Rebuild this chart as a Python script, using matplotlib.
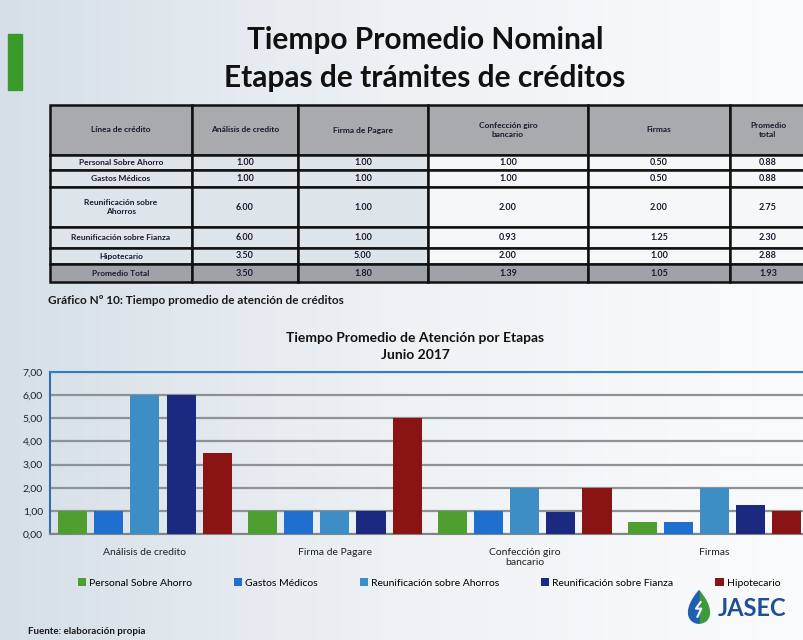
import matplotlib.pyplot as plt
import matplotlib.patches as patches
from matplotlib.colors import LinearSegmentedColormap
import numpy as np

plt.rcParams['font.family'] = ['Lato', 'DejaVu Sans']

# Data
etapas = ["Análisis de credito", "Firma de Pagare", "Confección giro\nbancario", "Firmas"]
lineas = ["Personal Sobre Ahorro", "Gastos Médicos", "Reunificación sobre Ahorros",
          "Reunificación sobre Fianza", "Hipotecario"]
personal = [1.00, 1.00, 1.00, 0.50]
gastos = [1.00, 1.00, 1.00, 0.50]
reunif_ahorros = [6.00, 1.00, 2.00, 2.00]
reunif_fianza = [6.00, 1.00, 0.93, 1.25]
hipotecario = [3.50, 5.00, 2.00, 1.00]
promedio_etapa = [3.50, 1.80, 1.39, 1.05]
promedio_linea = [0.88, 0.88, 2.75, 2.30, 2.88]
promedio_general = 1.93

header = ["Línea de crédito", "Análisis de credito", "Firma de Pagare",
          "Confección giro\nbancario", "Firmas", "Promedio\ntotal"]
row_labels = ["Personal Sobre Ahorro", "Gastos Médicos", "Reunificación sobre\nAhorros",
              "Reunificación sobre Fianza", "Hipotecario", "Promedio Total"]

series = [personal, gastos, reunif_ahorros, reunif_fianza, hipotecario]
colors = ['#4E9F2F', '#1F6FCF', '#3D8EC4', '#1B2A80', '#8A1414']

W, H = 804, 640
fig = plt.figure(figsize=(W / 100, H / 100), dpi=100)
fig.patch.set_facecolor('#E9EEF2')

# photo-like background gradient
bg = fig.add_axes([0, 0, 1, 1], zorder=-5)
grad = np.linspace(0, 1, 256)[None, :]
cmap = LinearSegmentedColormap.from_list('bg', ['#D6DFE7', '#EEF2F5', '#FAFBFC'])
bg.imshow(grad, aspect='auto', cmap=cmap, extent=[0, 1, 0, 1])
bg.axis('off')


def px(x, y, w, h):
    return [x / W, 1 - (y + h) / H, w / W, h / H]


# green accent bar and titles
fig.patches.append(patches.Rectangle((8 / W, 1 - 90 / H), 14 / W, 56 / H,
                                     transform=fig.transFigure, color='#3A9A2A'))
fig.text(425 / W, 1 - 40 / H, "Tiempo Promedio Nominal", ha='center', va='center',
         fontsize=21.5, fontweight='bold', color='#111111')
fig.text(425 / W, 1 - 78 / H, "Etapas de trámites de créditos", ha='center', va='center',
         fontsize=21.5, fontweight='bold', color='#111111')

# table
tab_ax = fig.add_axes(px(50, 105, 756, 177))
tab_ax.axis('off')
body = []
for i in range(len(lineas)):
    vals = [series[i][j] for j in range(len(etapas))]
    body.append([row_labels[i]] + [f"{v:.2f}" for v in vals] + [f"{promedio_linea[i]:.2f}"])
body.append([row_labels[-1]] + [f"{v:.2f}" for v in promedio_etapa] + [f"{promedio_general:.2f}"])
cell_text = [header] + body

col_w = np.array([142, 106, 130, 160, 142, 76], float)
row_h = [50, 15, 17, 40, 21, 16, 18]
tbl = tab_ax.table(cellText=cell_text, colWidths=list(col_w / col_w.sum()),
                   bbox=[0, 0, 1, 1], cellLoc='center')
tbl.auto_set_font_size(False)
for (r, c), cell in tbl.get_celld().items():
    cell.set_height(row_h[r] / sum(row_h))
    cell.set_linewidth(1.8)
    cell.set_edgecolor('#111111')
    if r == 0:
        cell.set_facecolor('#A8AAAD')
    elif r == len(row_h) - 1:
        cell.set_facecolor('#9FA3A8')
    elif c < 3:
        cell.set_facecolor('#DDE4EA')
    else:
        cell.set_facecolor('#F5F7F9')
    txt = cell.get_text()
    txt.set_fontsize(6 if (r == 0 or c == 0) else 6.5)
    txt.set_fontweight('bold')
    txt.set_color('#1A1A2E')

fig.text(48 / W, 1 - 300 / H, "Gráfico Nº 10: Tiempo promedio de atención de créditos",
         ha='left', va='center', fontsize=8.5, fontweight='bold', color='#1A1A1A')
fig.text(415 / W, 1 - 338 / H, "Tiempo Promedio de Atención por Etapas", ha='center',
         va='center', fontsize=10, fontweight='bold', color='#111111')
fig.text(415 / W, 1 - 355 / H, "Junio 2017", ha='center', va='center',
         fontsize=10, fontweight='bold', color='#111111')

# bar chart
ax = fig.add_axes(px(50, 372, 754, 162))
ax.set_facecolor('none')
x = np.arange(len(etapas))
step = 0.19
for k, (vals, col, lab) in enumerate(zip(series, colors, lineas)):
    ax.bar(x + (k - 2) * step, vals, width=0.153, color=col, label=lab, zorder=3)
ax.set_xlim(-0.5, 3.47)
ax.set_ylim(0, 7)
ax.set_yticks(np.arange(0, 8))
ax.yaxis.set_major_formatter(lambda v, p: f"{v:.2f}".replace('.', ','))
ax.set_xticks(x)
ax.set_xticklabels(etapas)
ax.grid(axis='y', color='#8E9296', lw=1.6, zorder=0)
ax.tick_params(length=0, labelsize=7.5, colors='#222222')
ax.tick_params(axis='x', pad=10)
ax.tick_params(axis='y', pad=5)
ax.spines['right'].set_visible(False)
ax.spines['left'].set_color('#2F6FB0')
ax.spines['top'].set_color('#2F7FC8')
ax.spines['bottom'].set_color('#7F8488')
for s in ax.spines.values():
    s.set_linewidth(1.5)

fig.legend(loc='center', bbox_to_anchor=(429 / W, 1 - 583 / H), ncol=5, frameon=False,
           fontsize=7.5, handlelength=0.8, handleheight=0.8, handletextpad=0.3,
           columnspacing=4.0)

# logo
lg = fig.add_axes(px(684, 590, 30, 34))
t = np.linspace(0, np.pi, 60)
xs = np.sin(t) * np.sin(t / 2) * 0.9
ys = np.cos(t)
lg.fill(np.r_[xs, 0], np.r_[ys, 1], color='#3C9A3A')
lg.fill(np.r_[-xs, 0], np.r_[ys, 1], color='#1F5FAF')
lg.plot([0.1, -0.2, 0.15, -0.1], [0.3, -0.1, -0.1, -0.6], color='white', lw=1.5)
lg.set_xlim(-1, 1)
lg.set_ylim(-1.05, 1.05)
lg.axis('off')
fig.text(718 / W, 1 - 608 / H, "JASEC", ha='left', va='center', fontsize=17,
         fontweight='bold', color='#1F4E9A')

fig.text(28 / W, 1 - 632 / H, "Fuente: elaboración propia", ha='left', va='center',
         fontsize=7, fontweight='bold', color='#1A1A1A')

fig.savefig('out.png', dpi=100, facecolor=fig.get_facecolor())
